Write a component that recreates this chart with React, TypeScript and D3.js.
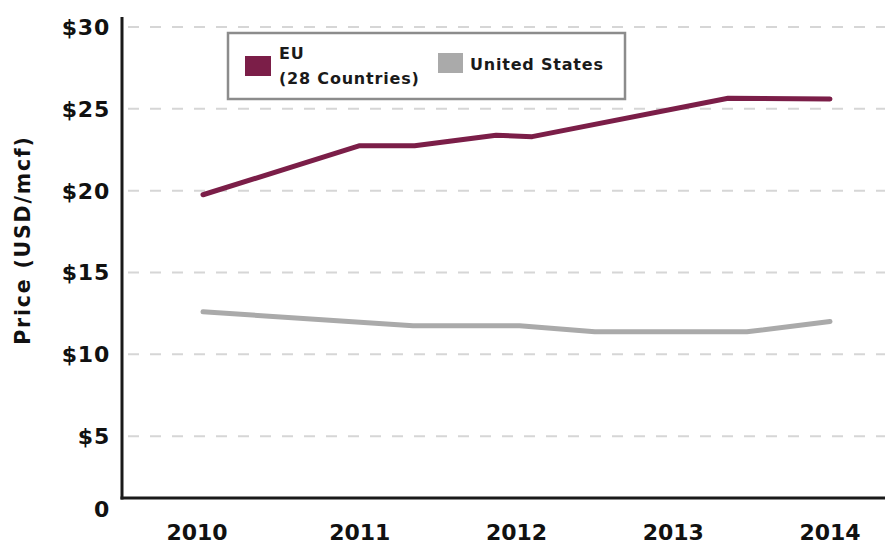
import React from "react";
import * as d3 from "d3";

const yTicks = [0, 5, 10, 15, 20, 25, 30];
const yTickLabels = ["0", "$5", "$10", "$15", "$20", "$25", "$30"];
const years = [2010, 2011, 2012, 2013, 2014];
const yearLabels = ["2010", "2011", "2012", "2013", "2014"];

const euYears = [2010, 2011, 2011.35, 2011.87, 2012.1, 2013.35, 2014];
const euValues = [19.75, 22.75, 22.75, 23.38, 23.3, 25.65, 25.6];

const usYears = [2010, 2011.34, 2012.02, 2012.5, 2013.47, 2014];
const usValues = [12.6, 11.75, 11.75, 11.38, 11.38, 12.0];

const seriesNames = ["EU", "(28 Countries)"];
const usName = "United States";
const yTitle = "Price (USD/mcf)";

const W = 885;
const H = 554;
const FONT = "'DejaVu Sans', sans-serif";
const EU_COLOR = "#7b1e48";
const US_COLOR = "#aaaaaa";

export default function App() {
  const x = d3.scaleLinear().domain([2010, 2014]).range([203, 830]);
  const y = d3.scaleLinear().domain([0, 30]).range([518, 27]);
  const axisX = 122;
  const axisY = 498;
  const axisTop = 17;

  const line = d3
    .line<[number, number]>()
    .x((d) => x(d[0]))
    .y((d) => y(d[1]));

  const euPts = euYears.map((t, i) => [t, euValues[i]] as [number, number]);
  const usPts = usYears.map((t, i) => [t, usValues[i]] as [number, number]);

  return (
    <svg
      width={W}
      height={H}
      style={{ position: "absolute", left: 0, top: 0, display: "block", background: "#fff" }}
      fontFamily={FONT}
    >
      <rect x={0} y={0} width={W} height={H} fill="#fff" />
      {yTicks
        .filter((v) => v > 0)
        .map((v) => (
          <line
            key={"g" + v}
            x1={axisX + 6}
            x2={W}
            y1={y(v)}
            y2={y(v)}
            stroke="#d6d6d6"
            strokeWidth={2}
            strokeDasharray="11,11"
          />
        ))}
      {yTicks.map((v, i) => (
        <text
          key={"yl" + v}
          x={110}
          y={v === 0 ? axisY + 11 : y(v)}
          dy="0.36em"
          textAnchor="end"
          fontSize={22}
          fontWeight="bold"
          letterSpacing={0.8}
          fill="#111"
        >
          {yTickLabels[i]}
        </text>
      ))}
      <text
        transform={`translate(30,${240}) rotate(-90)`}
        textAnchor="middle"
        fontSize={20.5}
        fontWeight="bold"
        letterSpacing={1.8}
        fill="#111"
      >
        {yTitle}
      </text>
      {years.map((t, i) => (
        <text
          key={"xl" + t}
          x={x(t) - (i === 0 ? 6 : 0)}
          y={540}
          textAnchor="middle"
          fontSize={22}
          fontWeight="bold"
          fill="#111"
        >
          {yearLabels[i]}
        </text>
      ))}
      <path d={line(usPts) || ""} fill="none" stroke={US_COLOR} strokeWidth={5} strokeLinejoin="round" strokeLinecap="round" />
      <path d={line(euPts) || ""} fill="none" stroke={EU_COLOR} strokeWidth={5} strokeLinejoin="round" strokeLinecap="round" />
      <line x1={axisX} x2={axisX} y1={axisTop} y2={axisY + 1.5} stroke="#1a1a1a" strokeWidth={3} />
      <line x1={axisX - 1.5} x2={W} y1={axisY} y2={axisY} stroke="#1a1a1a" strokeWidth={3} />
      <rect x={228} y={33} width={397} height={66} fill="#fff" stroke="#8c8c8c" strokeWidth={2.5} />
      <rect x={245} y={56} width={26} height={20} fill={EU_COLOR} />
      <text x={279} y={59} fontSize={16} fontWeight="bold" letterSpacing={0.8} fill="#1a1a1a">
        {seriesNames[0]}
      </text>
      <text x={279} y={83.5} fontSize={16} fontWeight="bold" letterSpacing={0.8} fill="#1a1a1a">
        {seriesNames[1]}
      </text>
      <rect x={438} y={53} width={25} height={20} fill={US_COLOR} />
      <text x={470} y={69.5} fontSize={16} fontWeight="bold" letterSpacing={0.8} fill="#1a1a1a">
        {usName}
      </text>
    </svg>
  );
}
